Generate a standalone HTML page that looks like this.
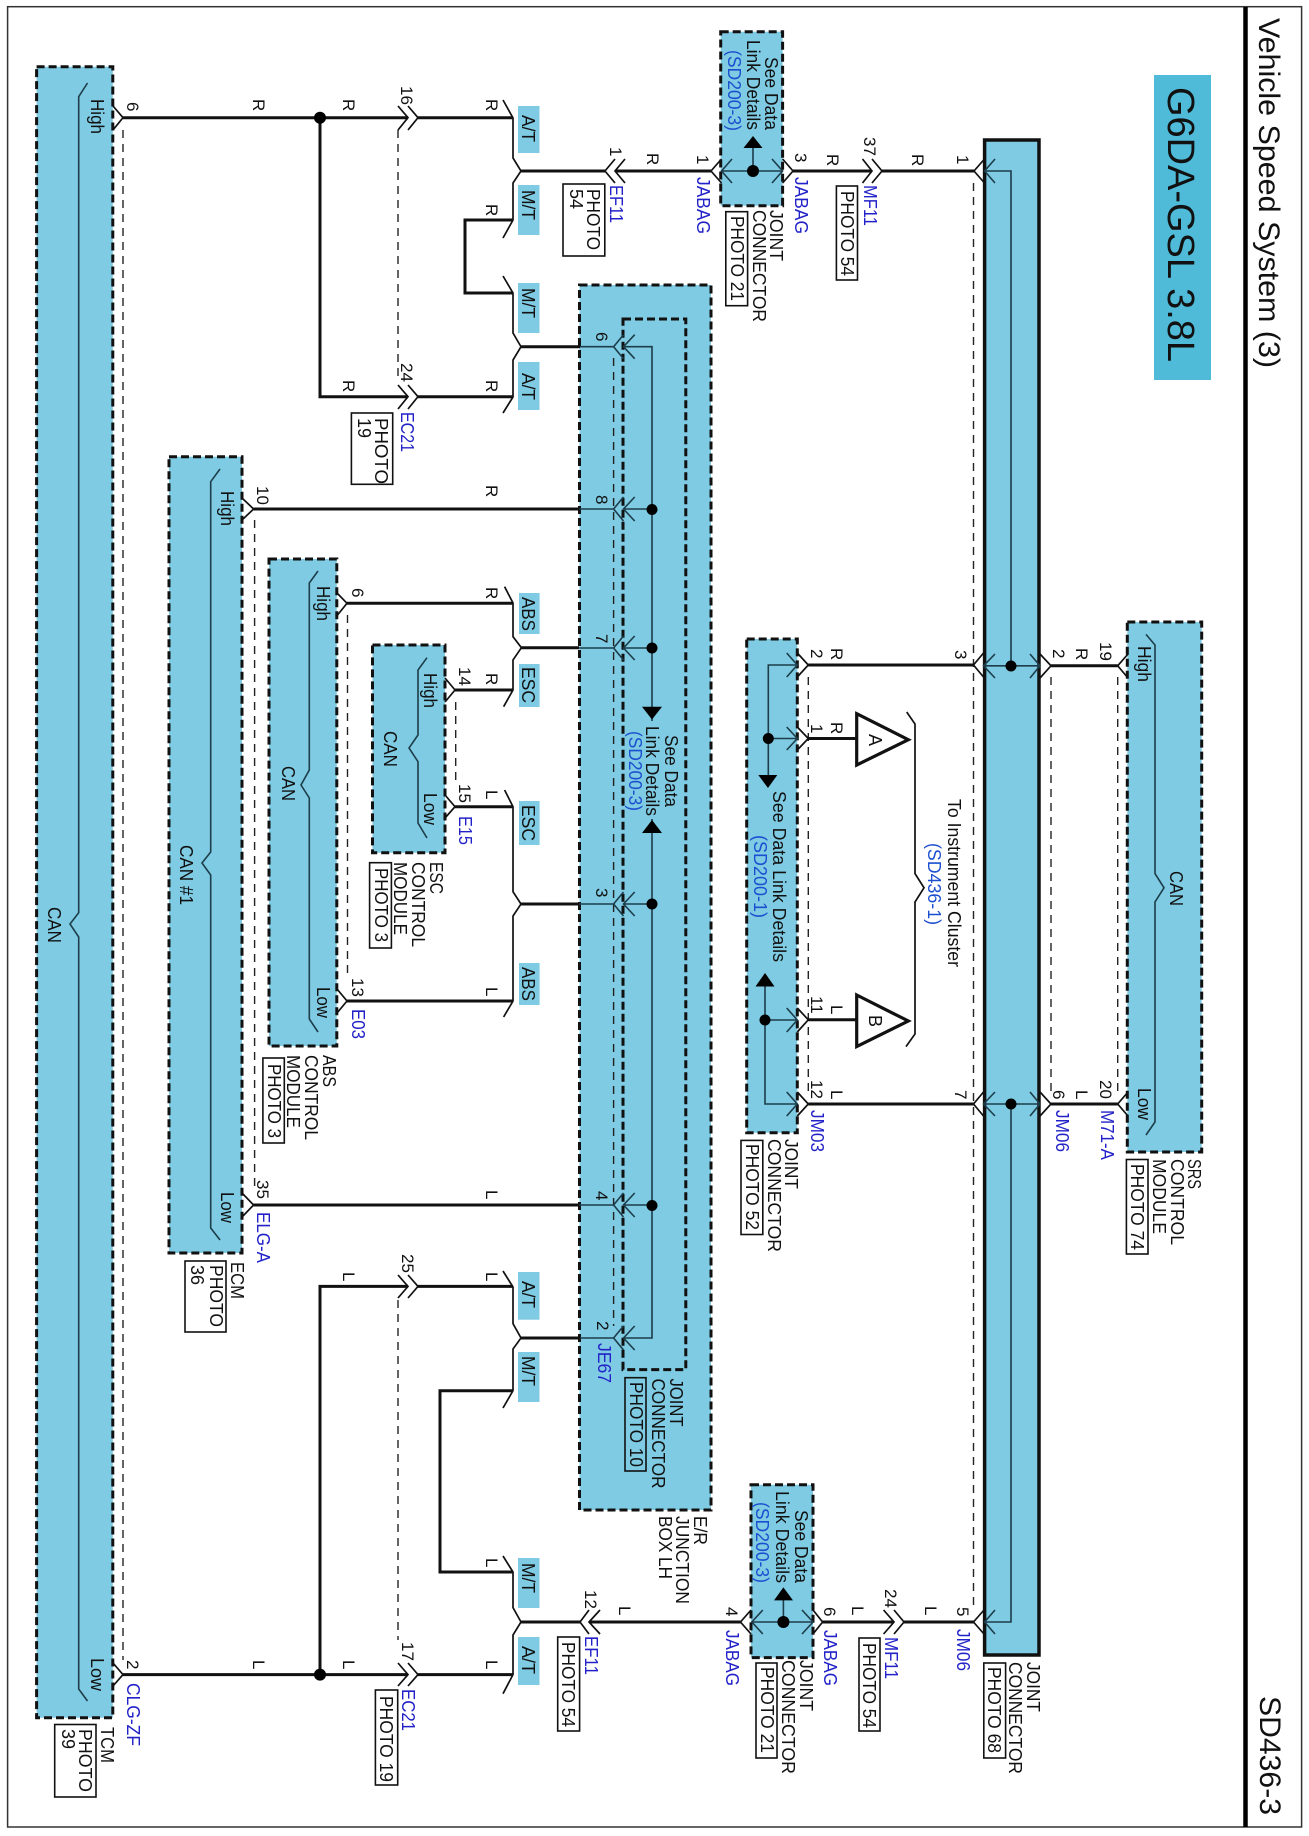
<!DOCTYPE html>
<html><head><meta charset="utf-8"><title>Vehicle Speed System (3)</title>
<style>
html,body{margin:0;padding:0;background:#fff}
svg{display:block}
text{font-family:"Liberation Sans",sans-serif;font-size:18px;fill:#111}
.p{font-size:17px}
.b{fill:#2222c8}
.l{fill:#1c4fd0}
.blk{fill:#7ecbe3;stroke:#111;stroke-width:3;stroke-dasharray:8 4}
.w{fill:none;stroke:#111;stroke-width:3}
.t{fill:none;stroke:#111;stroke-width:1.7}
.n{fill:none;stroke:#1d3d4a;stroke-width:1.6}
.d{fill:none;stroke:#222;stroke-width:1.4;stroke-dasharray:8 6}
.tag{fill:#7ecbe3}
.box{fill:#fff;stroke:#111;stroke-width:1.6}
</style></head><body>
<svg xmlns="http://www.w3.org/2000/svg" width="1309" height="1836" viewBox="0 0 1309 1836">
<rect width="1309" height="1836" fill="#fff"/>
<rect x="7.6" y="6.7" width="1294" height="1820.3" fill="none" stroke="#333" stroke-width="1.5"/>
<line x1="1245.5" y1="7" x2="1245.5" y2="1827" stroke="#000" stroke-width="4.5"/>
<rect x="1154" y="75" width="57" height="305" fill="#4fbbd8"/>

<!-- blocks -->
<rect class="blk" x="36.6" y="66.7" width="76.2" height="1651"/>
<rect class="blk" x="169" y="456.7" width="73" height="796.3"/>
<rect class="blk" x="269" y="559" width="67.8" height="487"/>
<rect class="blk" x="372.5" y="645" width="72.5" height="207.7"/>
<rect class="blk" x="579.5" y="285" width="131.5" height="1225"/>
<rect class="blk" x="623" y="319" width="62.8" height="1050.6"/>
<rect class="blk" x="720.7" y="31.7" width="61.9" height="174"/>
<rect class="blk" x="751" y="1484.8" width="62" height="172.8"/>
<rect class="blk" x="746.7" y="639" width="50.6" height="493.7"/>
<rect class="blk" x="1127.3" y="622" width="74.4" height="530"/>
<rect x="984.6" y="140" width="54.4" height="1515" fill="#7ecbe3" stroke="#111" stroke-width="3.5"/>

<!-- tags -->
<rect class="tag" x="518" y="106" width="21.5" height="47"/>
<rect class="tag" x="518" y="185" width="21.5" height="50"/>
<rect class="tag" x="518" y="283" width="21.5" height="50"/>
<rect class="tag" x="518" y="362" width="21.5" height="48"/>
<rect class="tag" x="519" y="593" width="20.6" height="41"/>
<rect class="tag" x="519" y="664" width="20.6" height="43"/>
<rect class="tag" x="519" y="801" width="20.6" height="44"/>
<rect class="tag" x="519" y="963" width="20.6" height="42"/>
<rect class="tag" x="518" y="1272" width="21.5" height="47.7"/>
<rect class="tag" x="518" y="1352" width="21.5" height="50"/>
<rect class="tag" x="518" y="1558" width="21.5" height="50"/>
<rect class="tag" x="518" y="1637" width="21.5" height="48"/>

<!-- photo boxes -->
<rect class="box" x="54.7" y="1724.5" width="41.3" height="72.5"/>
<rect class="box" x="185" y="1261" width="41" height="71"/>
<rect class="box" x="262.9" y="1058" width="21.4" height="85"/>
<rect class="box" x="369.6" y="862.7" width="21.8" height="85.3"/>
<rect class="box" x="351.4" y="413" width="41.3" height="71.3"/>
<rect class="box" x="563" y="184" width="41.8" height="72"/>
<rect class="box" x="725.8" y="211.7" width="21.8" height="94"/>
<rect class="box" x="836.4" y="186" width="21.1" height="94"/>
<rect class="box" x="375.4" y="1690" width="22.3" height="95"/>
<rect class="box" x="557.7" y="1637" width="21.9" height="94"/>
<rect class="box" x="625" y="1377.7" width="21" height="93.3" style="fill:none"/>
<rect class="box" x="756" y="1663" width="21" height="95"/>
<rect class="box" x="859" y="1638" width="21" height="93"/>
<rect class="box" x="983.8" y="1663" width="21.8" height="95"/>
<rect class="box" x="741" y="1140.4" width="21.8" height="94.1"/>
<rect class="box" x="1126.4" y="1159.5" width="21.6" height="94.5"/>

<!-- dashed pin lines -->
<path class="d" d="M123 130V1660M254.6 520V1190M347.5 615V977M455.7 702V780M398 130V380M398 1300V1640M613.6 358V1326M973.5 183V1610M808.3 677V1092M1051 677V1092M1117.7 677V1092"/>

<!-- thick wires -->
<path class="w" d="M123 117.7H408M418 117.7H513M320 117.7V396.7H408M418 396.7H513M521 171H605M615 171H711M793 171H872M882 171H974M513 220H465V293H513M521 346.7H580"/>
<path class="w" d="M253.6 509H579M347 603.3H513M455 690H513M521.4 647.7H579M455 806.7H513M521 904H579M347 1001H513M253.6 1205H579"/>
<path class="w" d="M123 1674.6H408M418 1674.6H513M320 1674.6V1286.4H408M418 1286.4H513M521 1338H580M513 1390.7H440V1572H513M521 1622H580M589 1622H740.5M822.6 1622H894M904 1622H974"/>
<path class="w" d="M808.3 665H973.5M1051 665.8H1117.7M808.3 738.5H857M808.3 1019.8H857M808.3 1104H973.5M1051 1104H1117.7"/>

<!-- splices & ticks -->
<path class="t" d="M503 100L513 118V158L521 171L513 183V220L503 238"/>
<path class="t" d="M503 276L513 293V333L521 346.7L513 360V397L503 413"/>
<path class="t" d="M504.6 586.7L513 603V636.7L521.4 647.7L513 660V690L503.6 706.7"/>
<path class="t" d="M504.6 790L513 806.7V891.7L521 904L513 916V1001L503.6 1017"/>
<path class="t" d="M503 1271L513 1287V1323.7L521 1338L513 1349V1390.7L503 1408"/>
<path class="t" d="M503 1556L513 1572V1607.7L521 1622L513 1635V1674.6L503 1693.7"/>

<!-- pin chevrons -->
<path class="t" d="M113 106L123 117.7L113 130M398 106L408 117.7L398 130M408 106L418 117.7L408 130M398 385L408 396.7L398 409M408 385L418 396.7L408 409M615 159L605 171L615 183M625 159L615 171L625 183M721.5 159L711 171L721.5 183M782.6 159L793 171L782.6 183M862.5 159L872 171L862.5 183M872 159L882 171L872 183M984.5 159L974 171L984.5 183"/>
<path class="t" d="M242 498L253.6 509L242 520M337 593L347 603.3L337 615.6M445 678L455 690L445 702M445 795L455 806.7L445 818M337 989L347 1001L337 1013M242 1193L253.6 1205L242 1217"/>
<path class="t" d="M113 1663L123 1674.6L113 1686M398 1663L408 1674.6L398 1686M408 1663L418 1674.6L408 1686M398 1275L408 1286.4L398 1298M408 1275L418 1286.4L408 1298M589 1610L580 1622L589 1634M600 1610L589 1622L600 1634M751 1610L740.5 1622L751 1634M813 1610L822.6 1622L813 1634M883.6 1610L894 1622L883.6 1634M894 1610L904 1622L894 1634M984 1610L973.5 1622L984 1634"/>
<path class="t" d="M797.3 653L808.3 665L797.3 677M797.3 727L808.3 738.5L797.3 750M797.3 1008L808.3 1019.8L797.3 1032M797.3 1092L808.3 1104L797.3 1116M983.5 653L973.5 665L983.5 677M983.5 1092L973.5 1104L983.5 1116M1040 654L1051 665.8L1040 678M1040 1092L1051 1104L1040 1116M1128 654L1117.7 665.8L1128 678M1128 1092L1117.7 1104L1128 1116"/>
<!-- JB pins -->
<path class="n" d="M623.5 334.7L613.6 346.7L623.5 358.7M634.7 334.7L623.5 346.7L634.7 358.7M580 346.7H613.6M623.5 346.7H652V1338H623.5M580 1338H613.6M623.5 1326L613.6 1338L623.5 1350M634.7 1326L623.5 1338L634.7 1350"/>
<path class="n" d="M623.5 497L613.6 509L623.5 521M634.7 497L623.5 509L634.7 521M579 509H613.6M623.5 509H652M623.5 636L613.6 648L623.5 660M634.7 636L623.5 648L634.7 660M579 648H613.6M623.5 648H652M623.5 892L613.6 904L623.5 916M634.7 892L623.5 904L634.7 916M579 904H613.6M623.5 904H652M623.5 1193L613.6 1205L623.5 1217M634.7 1193L623.5 1205L634.7 1217M579 1205H613.6M623.5 1205H652"/>
<path d="M652 719.5L642 706.7H662ZM652 820L642 833H662Z" fill="#000"/>
<rect x="640" y="721" width="24" height="98" fill="#7ecbe3"/>
<circle cx="652" cy="509.5" r="5.5"/><circle cx="652" cy="648" r="5.5"/><circle cx="652" cy="904" r="5.5"/><circle cx="652" cy="1205.5" r="5.5"/>
<!-- top jabag -->
<path class="n" d="M721.5 171H782.6M732 159L721.5 171L732 183M772 159L782.6 171L772 183M753 171V148"/>
<path d="M753 136L743.5 148H762.5Z"/><circle cx="753" cy="171" r="6"/>
<!-- bottom jabag -->
<path class="n" d="M751.8 1622H813M762.8 1610L751.8 1622L762.8 1634M802 1610L813 1622L802 1634M783.4 1622V1600"/>
<path d="M783.4 1587.4L774 1600.4H793Z"/><circle cx="783.4" cy="1622" r="6"/>
<!-- JM03 -->
<path class="n" d="M797 665H768.3V775M768.3 738.5H797M786.7 653L797.3 665L786.7 677M786.7 727L797.3 738.5L786.7 750M765 986.5V1104H797M765 1020H797M786.7 1008L797.3 1020L786.7 1032M786.7 1092L797.3 1104L786.7 1116"/>
<path d="M768 788L758.3 775H777.3ZM765 973L755.5 986.5H774.5Z"/><circle cx="768.3" cy="738.5" r="5.5"/><circle cx="765" cy="1020" r="5.5"/>
<!-- joint connector -->
<path class="n" d="M985 171H1011V666M1011 1104V1622H985M995 159L984.6 171L995 183M995 1610L984.6 1622L995 1634M985 665.8H1039M995 654L983.5 665.8L995 678M1030 654L1040 665.8L1030 678M985 1104H1039M995 1092L983.5 1104L995 1116M1030 1092L1040 1104L1030 1116"/>
<circle cx="1011" cy="666" r="5.5"/><circle cx="1011" cy="1104" r="5.5"/>
<!-- triangles -->
<path d="M856.7 713.7L908.3 739.7L856.7 765Z" fill="#fff" stroke="#111" stroke-width="3.2"/>
<path d="M856.7 995L908.3 1021L856.7 1046.6Z" fill="#fff" stroke="#111" stroke-width="3.2"/>
<!-- brackets -->
<path class="t" d="M906.7 712L915 724V873.6L924 887.8L915 902V1034L906 1046.6"/>
<path class="n" d="M87.5 83L78.7 96.7V912.7L70 924L78.7 937V1689L87.5 1701"/>
<path class="n" d="M220 469L210.7 481.7V852L202 863L210.7 875V1228L220 1240"/>
<path class="n" d="M318 571L309.3 583V770L301 785L309.3 798V1019L318 1032"/>
<path class="n" d="M427 657.7L418 670V735L409 748L418 761.7V823L427 838"/>
<path class="n" d="M1146 634.4L1155 645V873.6L1164 887.8L1155 902V1122L1146 1135"/>
<circle cx="320" cy="117.7" r="6"/><circle cx="320" cy="1674.6" r="6"/>

<g transform="rotate(90)">
<!-- x = start y, y = -baseline x -->
<text x="18" y="-1259" style="font-size:30px" textLength="350" lengthAdjust="spacingAndGlyphs">Vehicle Speed System (3)</text>
<text x="87" y="-1168" style="font-size:38px" textLength="275" lengthAdjust="spacingAndGlyphs">G6DA-GSL 3.8L</text>
<text x="1696" y="-1260" style="font-size:30px" textLength="119" lengthAdjust="spacingAndGlyphs">SD436-3</text>

<!-- TCM -->
<text x="99" y="-91" textLength="35" lengthAdjust="spacingAndGlyphs">High</text>
<text x="1658" y="-91" textLength="33" lengthAdjust="spacingAndGlyphs">Low</text>
<text x="907" y="-48" textLength="36" lengthAdjust="spacingAndGlyphs">CAN</text>
<text class="p" x="102" y="-127">6</text>
<text class="p" x="1660" y="-127">2</text>
<text class="b" x="1683" y="-127" textLength="63" lengthAdjust="spacingAndGlyphs">CLG-ZF</text>
<text x="1727" y="-101" textLength="36" lengthAdjust="spacingAndGlyphs">TCM</text>
<text x="1729" y="-79" textLength="63" lengthAdjust="spacingAndGlyphs">PHOTO</text>
<text x="1729" y="-62">39</text>

<!-- ECM -->
<text x="491" y="-221" textLength="35" lengthAdjust="spacingAndGlyphs">High</text>
<text x="1192" y="-221" textLength="31" lengthAdjust="spacingAndGlyphs">Low</text>
<text x="845" y="-180" textLength="60" lengthAdjust="spacingAndGlyphs">CAN #1</text>
<text class="p" x="486" y="-257">10</text>
<text class="p" x="1180" y="-257">35</text>
<text class="b" x="1212" y="-257" textLength="51" lengthAdjust="spacingAndGlyphs">ELG-A</text>
<text x="1262" y="-231" textLength="37" lengthAdjust="spacingAndGlyphs">ECM</text>
<text x="1265" y="-210" textLength="62" lengthAdjust="spacingAndGlyphs">PHOTO</text>
<text x="1265" y="-191">36</text>

<!-- ABS -->
<text x="586" y="-317" textLength="35" lengthAdjust="spacingAndGlyphs">High</text>
<text x="987" y="-317" textLength="31" lengthAdjust="spacingAndGlyphs">Low</text>
<text x="766" y="-282" textLength="35" lengthAdjust="spacingAndGlyphs">CAN</text>
<text class="p" x="588" y="-352">6</text>
<text class="p" x="978" y="-352">13</text>
<text class="b" x="1009" y="-352" textLength="30" lengthAdjust="spacingAndGlyphs">E03</text>
<text x="1055" y="-323" textLength="32" lengthAdjust="spacingAndGlyphs">ABS</text>
<text x="1055" y="-305" textLength="85" lengthAdjust="spacingAndGlyphs">CONTROL</text>
<text x="1055" y="-287" textLength="73" lengthAdjust="spacingAndGlyphs">MODULE</text>
<text x="1064" y="-268" textLength="74" lengthAdjust="spacingAndGlyphs">PHOTO 3</text>

<!-- ESC -->
<text x="673" y="-424" textLength="35" lengthAdjust="spacingAndGlyphs">High</text>
<text x="793" y="-424" textLength="32" lengthAdjust="spacingAndGlyphs">Low</text>
<text x="731" y="-384" textLength="36" lengthAdjust="spacingAndGlyphs">CAN</text>
<text class="p" x="667" y="-459">14</text>
<text class="p" x="784" y="-459">15</text>
<text class="b" x="816" y="-459" textLength="29" lengthAdjust="spacingAndGlyphs">E15</text>
<text x="862" y="-430" textLength="32" lengthAdjust="spacingAndGlyphs">ESC</text>
<text x="862" y="-412" textLength="85" lengthAdjust="spacingAndGlyphs">CONTROL</text>
<text x="862" y="-394" textLength="73" lengthAdjust="spacingAndGlyphs">MODULE</text>
<text x="868" y="-375" textLength="74" lengthAdjust="spacingAndGlyphs">PHOTO 3</text>

<!-- wire letters upper -->
<text class="p" x="99" y="-253">R</text><text class="p" x="99" y="-343">R</text><text class="p" x="99" y="-486">R</text>
<text class="p" x="204" y="-486">R</text><text class="p" x="380" y="-343">R</text><text class="p" x="380" y="-486">R</text>
<text class="p" x="485" y="-486">R</text><text class="p" x="587" y="-486">R</text><text class="p" x="673" y="-486">R</text>
<text class="p" x="790" y="-486">L</text><text class="p" x="987" y="-486">L</text><text class="p" x="1190" y="-486">L</text>
<text class="p" x="153" y="-647">R</text><text class="p" x="154" y="-827">R</text><text class="p" x="154" y="-912">R</text>
<text class="p" x="648" y="-831">R</text><text class="p" x="722" y="-831">R</text><text class="p" x="1005" y="-831">L</text><text class="p" x="1090" y="-831">L</text>
<text class="p" x="648" y="-1076">R</text><text class="p" x="1090" y="-1076">L</text>
<!-- wire letters lower -->
<text class="p" x="1660" y="-253">L</text><text class="p" x="1660" y="-343">L</text><text class="p" x="1660" y="-486">L</text>
<text class="p" x="1272" y="-343">L</text><text class="p" x="1272" y="-486">L</text><text class="p" x="1558" y="-486">L</text>
<text class="p" x="1606" y="-619">L</text><text class="p" x="1606" y="-852">L</text><text class="p" x="1606" y="-925">L</text>

<!-- tag text -->
<text x="115" y="-522" textLength="27" lengthAdjust="spacingAndGlyphs">A/T</text>
<text x="190" y="-522" textLength="30" lengthAdjust="spacingAndGlyphs">M/T</text>
<text x="288" y="-522" textLength="30" lengthAdjust="spacingAndGlyphs">M/T</text>
<text x="373" y="-522" textLength="27" lengthAdjust="spacingAndGlyphs">A/T</text>
<text x="597" y="-522" textLength="34" lengthAdjust="spacingAndGlyphs">ABS</text>
<text x="667" y="-522" textLength="36" lengthAdjust="spacingAndGlyphs">ESC</text>
<text x="805" y="-522" textLength="36" lengthAdjust="spacingAndGlyphs">ESC</text>
<text x="967" y="-522" textLength="34" lengthAdjust="spacingAndGlyphs">ABS</text>
<text x="1281" y="-522" textLength="27" lengthAdjust="spacingAndGlyphs">A/T</text>
<text x="1356" y="-522" textLength="30" lengthAdjust="spacingAndGlyphs">M/T</text>
<text x="1563" y="-522" textLength="30" lengthAdjust="spacingAndGlyphs">M/T</text>
<text x="1646" y="-522" textLength="28" lengthAdjust="spacingAndGlyphs">A/T</text>

<!-- connector labels upper -->
<text class="p" x="86" y="-401">16</text><text class="p" x="363" y="-401">24</text>
<text class="b" x="412" y="-401" textLength="40" lengthAdjust="spacingAndGlyphs">EC21</text>
<text x="418" y="-375" textLength="66" lengthAdjust="spacingAndGlyphs">PHOTO</text>
<text x="418" y="-358">19</text>
<text class="p" x="147" y="-610">1</text>
<text class="b" x="185" y="-610" textLength="38" lengthAdjust="spacingAndGlyphs">EF11</text>
<text x="189" y="-587" textLength="61" lengthAdjust="spacingAndGlyphs">PHOTO</text>
<text x="189" y="-570">54</text>
<text class="p" x="155" y="-697">1</text>
<text class="b" x="177" y="-697" textLength="57" lengthAdjust="spacingAndGlyphs">JABAG</text>
<text class="p" x="153" y="-795">3</text>
<text class="b" x="177" y="-795" textLength="57" lengthAdjust="spacingAndGlyphs">JABAG</text>
<text class="p" x="137" y="-864">37</text>
<text class="b" x="185" y="-864" textLength="41" lengthAdjust="spacingAndGlyphs">MF11</text>
<text x="191" y="-841" textLength="85" lengthAdjust="spacingAndGlyphs">PHOTO 54</text>
<text class="p" x="155" y="-957">1</text>
<text x="57" y="-765" textLength="73" lengthAdjust="spacingAndGlyphs">See Data</text>
<text x="40" y="-747" textLength="90" lengthAdjust="spacingAndGlyphs">Link Details</text>
<text class="l" x="50" y="-728" textLength="81" lengthAdjust="spacingAndGlyphs">(SD200-3)</text>
<text x="210" y="-770" textLength="51" lengthAdjust="spacingAndGlyphs">JOINT</text>
<text x="210" y="-753" textLength="112" lengthAdjust="spacingAndGlyphs">CONNECTOR</text>
<text x="216" y="-731" textLength="85" lengthAdjust="spacingAndGlyphs">PHOTO 21</text>

<!-- JB -->
<text class="p" x="332" y="-596">6</text><text class="p" x="495" y="-596">8</text><text class="p" x="634" y="-596">7</text>
<text class="p" x="888" y="-596">3</text><text class="p" x="1191" y="-596">4</text><text class="p" x="1321" y="-597">2</text>
<text class="b" x="1343" y="-598" textLength="40" lengthAdjust="spacingAndGlyphs">JE67</text>
<text x="735" y="-665" textLength="72" lengthAdjust="spacingAndGlyphs">See Data</text>
<text x="726" y="-646" textLength="90" lengthAdjust="spacingAndGlyphs">Link Details</text>
<text class="l" x="731" y="-629" textLength="80" lengthAdjust="spacingAndGlyphs">(SD200-3)</text>
<text x="1378.5" y="-670" textLength="48" lengthAdjust="spacingAndGlyphs">JOINT</text>
<text x="1378.5" y="-652" textLength="110" lengthAdjust="spacingAndGlyphs">CONNECTOR</text>
<text x="1382" y="-630" textLength="85" lengthAdjust="spacingAndGlyphs">PHOTO 10</text>
<text x="1516" y="-694" textLength="29" lengthAdjust="spacingAndGlyphs">E/R</text>
<text x="1516" y="-676" textLength="88" lengthAdjust="spacingAndGlyphs">JUNCTION</text>
<text x="1516" y="-659" textLength="63" lengthAdjust="spacingAndGlyphs">BOX LH</text>

<!-- lower connector labels -->
<text class="p" x="1254" y="-402">25</text><text class="p" x="1642" y="-402">17</text>
<text class="b" x="1689" y="-402" textLength="42" lengthAdjust="spacingAndGlyphs">EC21</text>
<text x="1696" y="-380" textLength="86" lengthAdjust="spacingAndGlyphs">PHOTO 19</text>
<text class="p" x="1590" y="-585">12</text>
<text class="b" x="1636" y="-585" textLength="39" lengthAdjust="spacingAndGlyphs">EF11</text>
<text x="1642" y="-562" textLength="85" lengthAdjust="spacingAndGlyphs">PHOTO 54</text>
<text class="p" x="1607" y="-726">4</text>
<text class="b" x="1630" y="-726" textLength="56" lengthAdjust="spacingAndGlyphs">JABAG</text>
<text class="p" x="1607" y="-824">6</text>
<text class="b" x="1630" y="-824" textLength="56" lengthAdjust="spacingAndGlyphs">JABAG</text>
<text class="p" x="1589" y="-885">24</text>
<text class="b" x="1637" y="-885" textLength="42" lengthAdjust="spacingAndGlyphs">MF11</text>
<text x="1643" y="-863" textLength="85" lengthAdjust="spacingAndGlyphs">PHOTO 54</text>
<text class="p" x="1607" y="-957">5</text>
<text class="b" x="1629" y="-957" textLength="42" lengthAdjust="spacingAndGlyphs">JM06</text>
<text x="1510" y="-795" textLength="73" lengthAdjust="spacingAndGlyphs">See Data</text>
<text x="1491" y="-776" textLength="92" lengthAdjust="spacingAndGlyphs">Link Details</text>
<text class="l" x="1502" y="-756" textLength="81" lengthAdjust="spacingAndGlyphs">(SD200-3)</text>
<text x="1660" y="-800" textLength="51" lengthAdjust="spacingAndGlyphs">JOINT</text>
<text x="1660" y="-782" textLength="114" lengthAdjust="spacingAndGlyphs">CONNECTOR</text>
<text x="1667" y="-761" textLength="86" lengthAdjust="spacingAndGlyphs">PHOTO 21</text>
<text x="1662" y="-1027" textLength="50" lengthAdjust="spacingAndGlyphs">JOINT</text>
<text x="1662" y="-1009" textLength="112" lengthAdjust="spacingAndGlyphs">CONNECTOR</text>
<text x="1667" y="-988" textLength="86" lengthAdjust="spacingAndGlyphs">PHOTO 68</text>

<!-- JM03 region -->
<text class="p" x="649" y="-811">2</text><text class="p" x="724" y="-811">1</text>
<text class="p" x="996" y="-811">11</text><text class="p" x="1080" y="-811">12</text>
<text class="b" x="1110" y="-811" textLength="42" lengthAdjust="spacingAndGlyphs">JM03</text>
<text x="791" y="-773" textLength="171" lengthAdjust="spacingAndGlyphs">See Data Link Details</text>
<text class="l" x="835" y="-754" textLength="83" lengthAdjust="spacingAndGlyphs">(SD200-1)</text>
<text x="1139" y="-785" textLength="50" lengthAdjust="spacingAndGlyphs">JOINT</text>
<text x="1139" y="-768" textLength="113" lengthAdjust="spacingAndGlyphs">CONNECTOR</text>
<text x="1144" y="-746" textLength="86" lengthAdjust="spacingAndGlyphs">PHOTO 52</text>
<text x="734" y="-869">A</text><text x="1015" y="-869">B</text>
<text x="799" y="-948" textLength="168" lengthAdjust="spacingAndGlyphs">To Instrument Cluster</text>
<text class="l" x="843" y="-928" textLength="82" lengthAdjust="spacingAndGlyphs">(SD436-1)</text>

<!-- right side -->
<text class="p" x="650" y="-955">3</text><text class="p" x="1090" y="-955">7</text>
<text class="p" x="649" y="-1053">2</text><text class="p" x="1090" y="-1053">6</text>
<text class="b" x="1110" y="-1056" textLength="42" lengthAdjust="spacingAndGlyphs">JM06</text>
<text class="p" x="642" y="-1100">19</text><text class="p" x="1080" y="-1100">20</text>
<text class="b" x="1110" y="-1101" textLength="50" lengthAdjust="spacingAndGlyphs">M71-A</text>
<text x="646" y="-1138" textLength="36" lengthAdjust="spacingAndGlyphs">High</text>
<text x="1088" y="-1138" textLength="32" lengthAdjust="spacingAndGlyphs">Low</text>
<text x="871" y="-1170" textLength="35" lengthAdjust="spacingAndGlyphs">CAN</text>
<text x="1159" y="-1188" textLength="30" lengthAdjust="spacingAndGlyphs">SRS</text>
<text x="1159" y="-1171" textLength="86" lengthAdjust="spacingAndGlyphs">CONTROL</text>
<text x="1159" y="-1153" textLength="75" lengthAdjust="spacingAndGlyphs">MODULE</text>
<text x="1164" y="-1131" textLength="86" lengthAdjust="spacingAndGlyphs">PHOTO 74</text>
</g>
</svg>
</body></html>
